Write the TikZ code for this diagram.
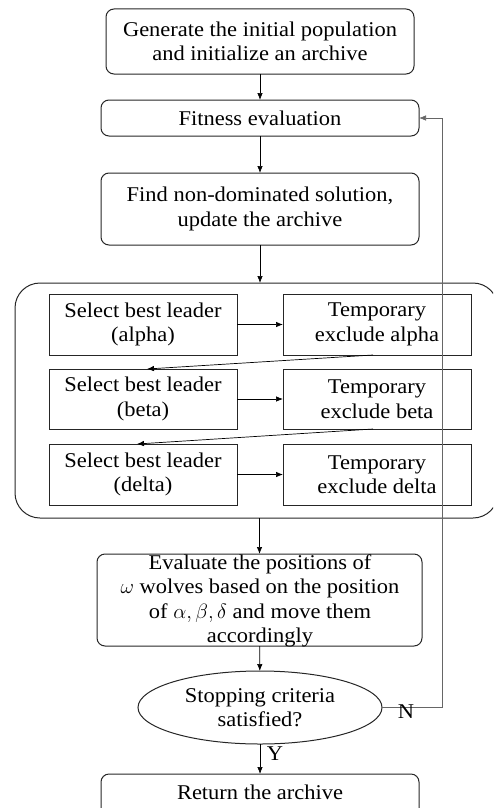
\documentclass[tikz,border=0pt]{standalone}
\usepackage{fontspec}
\setmainfont{Liberation Serif}[FakeStretch=1.07]
\usetikzlibrary{arrows.meta,shapes.geometric}
\tikzset{
  every node/.style={font=\fontsize{21}{24.5}\selectfont, align=center, inner sep=0pt, outer sep=0pt},
  rbox/.style={draw=black!85, line width=1pt, rounded corners=8pt},
  sbox/.style={draw=black!85, line width=1pt, minimum width=188pt},
  arr/.style={-{Latex[length=7pt,width=5.5pt]}, line width=0.7pt, black},
  fb/.style={-{Latex[length=7pt,width=5.5pt]}, line width=0.7pt, black!60},
}
\begin{document}
\begin{tikzpicture}[x=1pt,y=-1pt]
\useasboundingbox (0,0) rectangle (493,808);
\clip (0,0) rectangle (493,808);
\node[rbox, minimum width=308pt, minimum height=65pt] (gen) at (260,41.5) {Generate the initial population\\and initialize an archive};
\node[rbox, minimum width=318pt, minimum height=36pt] (fit) at (260,118) {Fitness evaluation};
\node[rbox, minimum width=318pt, minimum height=72pt] (find) at (260,209) {Find non-dominated solution,\\update the archive};
\node[draw=black!85, line width=1pt, rounded corners=25pt, minimum width=483pt, minimum height=235pt] (cont) at (256.5,400.5) {};
\node[sbox, minimum height=61pt] (l1) at (143,324.5) {Select best leader\\(alpha)};
\node[sbox, minimum height=61pt] (r1) at (377,324.5) {Temporary\\exclude alpha};
\node[sbox, minimum height=60pt] (l2) at (143,399) {Select best leader\\(beta)};
\node[sbox, minimum height=60pt] (r2) at (377,399) {Temporary\\exclude beta};
\node[sbox, minimum height=61pt] (l3) at (143,474.5) {Select best leader\\(delta)};
\node[sbox, minimum height=61pt] (r3) at (377,474.5) {Temporary\\exclude delta};
\node[rbox, minimum width=325pt, minimum height=92pt] (eval) at (259.5,600) {};
\node at (260,601) {Evaluate the positions of\\$\omega$ wolves based on the position\\of $\alpha,\beta,\delta$ and move them\\accordingly};
\node[draw=black!85, line width=1pt, ellipse, minimum width=244pt, minimum height=73pt] (stop) at (260,707.5) {Stopping criteria\\satisfied?};
\node[rbox, minimum width=318pt, minimum height=50pt, anchor=north] (ret) at (260,774) {};
\node at (260,792) {Return the archive};
\coordinate (fbx) at (442,118);
\draw[arr] (gen) -- (fit);
\draw[arr] (fit) -- (find);
\draw[arr] (find) -- (find |- cont.north);
\draw[arr] (l1) -- (r1);
\draw[arr] (l2) -- (r2);
\draw[arr] (l3) -- (r3);
\draw[arr] ([xshift=-4pt]r1.south) -- ([xshift=4pt]l2.north);
\draw[arr] ([xshift=-4pt]r2.south) -- ([xshift=-6pt]l3.north);
\draw[arr] (cont.south -| eval.north) -- (eval.north);
\draw[arr] (eval) -- (stop);
\draw[arr] (stop) -- (ret.north -| stop.south);
\draw[fb] (stop.east) -| (fbx) -- (fit.east);
\node at (406,712) {N};
\node at (275,754) {Y};
\end{tikzpicture}
\end{document}
